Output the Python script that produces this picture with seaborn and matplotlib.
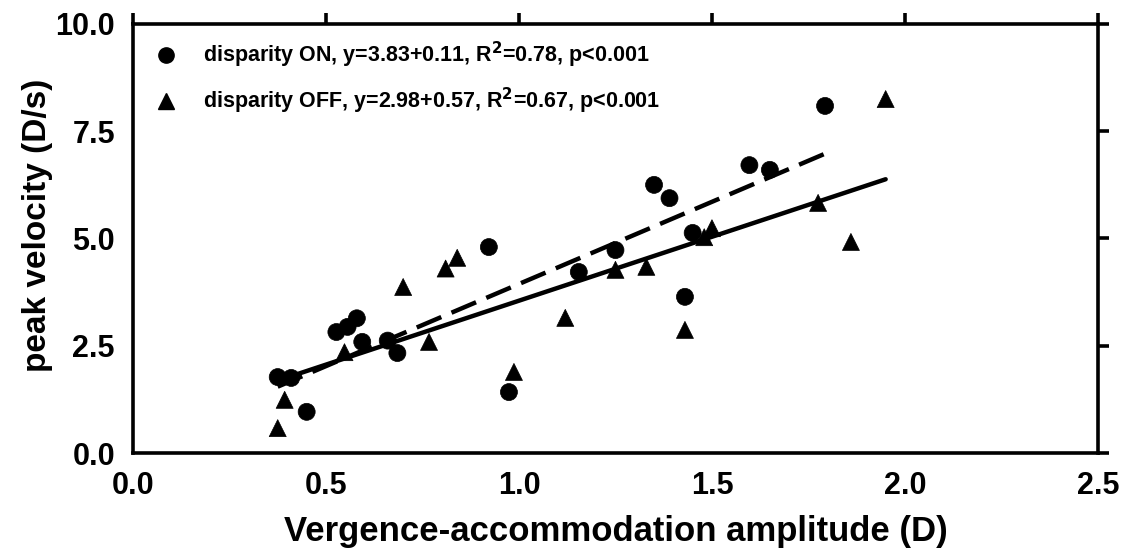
import matplotlib
matplotlib.use("Agg")
import matplotlib.pyplot as plt
import seaborn as sns
import pandas as pd
import numpy as np
from matplotlib.lines import Line2D

# ---- data ----
on_x = [0.375, 0.41, 0.45, 0.527, 0.556, 0.58, 0.594, 0.66, 0.685, 0.922, 0.974,
        1.155, 1.25, 1.35, 1.39, 1.43, 1.45, 1.597, 1.65, 1.793]
on_y = [1.77, 1.75, 0.96, 2.82, 2.94, 3.14, 2.59, 2.62, 2.33, 4.80, 1.42,
        4.22, 4.73, 6.25, 5.94, 3.64, 5.13, 6.71, 6.60, 8.09]

off_x = [0.375, 0.393, 0.548, 0.70, 0.767, 0.81, 0.84, 0.987, 1.12, 1.25, 1.33,
         1.43, 1.48, 1.50, 1.775, 1.86, 1.95]
off_y = [0.58, 1.24, 2.35, 3.87, 2.59, 4.30, 4.55, 1.89, 3.15, 4.27, 4.34,
         2.87, 5.03, 5.24, 5.83, 4.92, 8.25]

# regression coefficients given in the legend (slope, intercept)
on_slope, on_intercept = 3.83, 0.11
off_slope, off_intercept = 2.98, 0.57

labels = ["disparity ON, y=3.83+0.11, R$^{2}$=0.78, p<0.001",
          "disparity OFF, y=2.98+0.57, R$^{2}$=0.67, p<0.001"]
x_ticks = [0.0, 0.5, 1.0, 1.5, 2.0, 2.5]
y_ticks = [0.0, 2.5, 5.0, 7.5, 10.0]
x_label = "Vergence-accommodation amplitude (D)"
y_label = "peak velocity (D/s)"

# ---- build tables ----
pts = pd.DataFrame({
    "x": on_x + off_x,
    "y": on_y + off_y,
    "cond": ["ON"] * len(on_x) + ["OFF"] * len(off_x),
})
on_line_x = [min(on_x), max(on_x)]
off_line_x = [min(off_x), max(off_x)]
lines = pd.DataFrame({
    "x": on_line_x + off_line_x,
    "y": [on_intercept + on_slope * v for v in on_line_x] +
         [off_intercept + off_slope * v for v in off_line_x],
    "cond": ["ON", "ON", "OFF", "OFF"],
})

sns.set_theme(style="white")
plt.rcParams["font.family"] = ["Liberation Sans", "DejaVu Sans"]
plt.rcParams["font.weight"] = "bold"
plt.rcParams["text.color"] = "black"
plt.rcParams["axes.labelcolor"] = "black"
plt.rcParams["xtick.color"] = "black"
plt.rcParams["ytick.color"] = "black"

fig = plt.figure(figsize=(11.23, 5.59), dpi=100)
ax = fig.add_axes([0.1184, 0.1896, 0.8593, 0.7675])

sns.lineplot(data=lines[lines.cond == "ON"], x="x", y="y", ax=ax, color="black",
             lw=3.2, legend=False)
ax.lines[-1].set_dashes([6, 2.5])
sns.lineplot(data=lines[lines.cond == "OFF"], x="x", y="y", ax=ax, color="black",
             lw=3.2, legend=False)

sns.scatterplot(data=pts, x="x", y="y", style="cond", markers={"ON": "o", "OFF": "^"},
                color="black", s=150, edgecolor="black", linewidth=0.5,
                ax=ax, legend=False, zorder=3)

ax.set_xlim(0, 2.5)
ax.set_ylim(0, 10)
ax.set_xticks(x_ticks)
ax.set_yticks(y_ticks)
ax.set_xticklabels([f"{v:.1f}" for v in x_ticks])
ax.set_yticklabels([f"{v:.1f}" for v in y_ticks])
ax.set_xlabel(x_label, fontsize=25, fontweight="bold", labelpad=10, color="black")
ax.set_ylabel(y_label, fontsize=24, fontweight="bold", labelpad=8, color="black")
ax.yaxis.set_label_coords(-0.083, 0.53)

for sp in ax.spines.values():
    sp.set_visible(True)
    sp.set_color("black")
    sp.set_linewidth(2.6)

ax.tick_params(axis="both", which="major", direction="out", length=8, width=2.6,
               color="black", labelcolor="black", labelsize=22, top=True, right=True,
               labeltop=False, labelright=False, pad=5)
for lab in ax.get_xticklabels() + ax.get_yticklabels():
    lab.set_fontweight("bold")

handles = [
    Line2D([], [], marker="o", color="black", linestyle="none", markersize=11),
    Line2D([], [], marker="^", color="black", linestyle="none", markersize=12),
]
leg = ax.legend(handles, labels, loc="upper left", frameon=False,
                bbox_to_anchor=(0.0, 1.0), prop={"size": 15.5, "weight": "bold"},
                handletextpad=0.9, labelspacing=0.72, borderaxespad=0.35,
                handlelength=1.6)
for t in leg.get_texts():
    t.set_color("black")

fig.savefig("out.png", dpi=100)
